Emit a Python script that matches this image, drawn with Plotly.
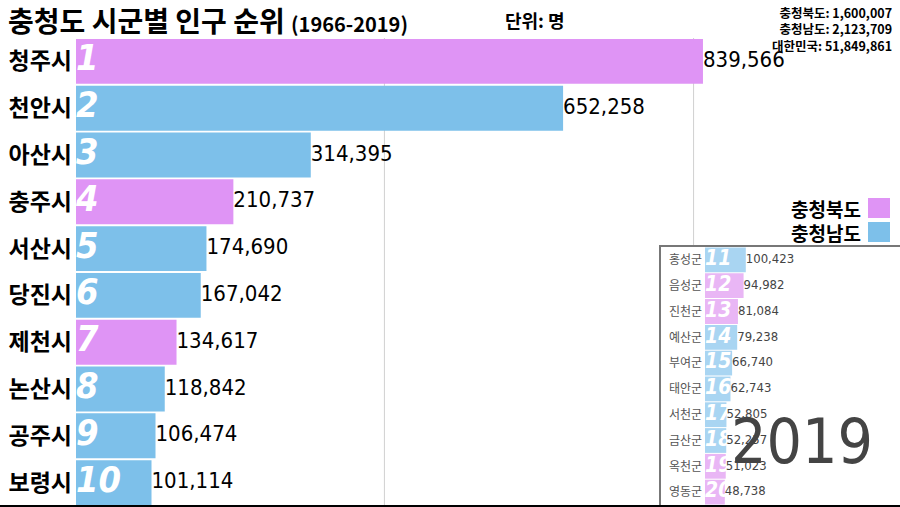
import plotly.graph_objects as go

W, H = 900, 507

# ---------------- data ----------------
top_names = ["청주시", "천안시", "아산시", "충주시", "서산시", "당진시", "제천시", "논산시", "공주시", "보령시"]
top_values = [839566, 652258, 314395, 210737, 174690, 167042, 134617, 118842, 106474, 101114]
top_province = ["북", "남", "남", "북", "남", "남", "북", "남", "남", "남"]
top_ranks = [1, 2, 3, 4, 5, 6, 7, 8, 9, 10]

low_names = ["홍성군", "음성군", "진천군", "예산군", "부여군", "태안군", "서천군", "금산군", "옥천군", "영동군"]
low_values = [100423, 94982, 81084, 79238, 66740, 62743, 52805, 52257, 51023, 48738]
low_province = ["남", "북", "북", "남", "남", "남", "남", "남", "북", "북"]
low_ranks = [11, 12, 13, 14, 15, 16, 17, 18, 19, 20]

totals_labels = ["충청북도:", "충청남도:", "대한민국:"]
totals_values = [1600007, 2123709, 51849861]
year = "2019"
grid_vals = [413000, 827000]

# ---------------- styles ----------------
KR = "Noto Sans CJK KR"
NUM = "Liberation Sans Narrow, DejaVu Sans Condensed, Roboto, Noto Sans CJK KR"
col_main = {"북": "#df94f5", "남": "#7dc0ea"}
col_inset = {"북": "#e9b6f5", "남": "#a9d5f2"}


def px(x):
    return x / W


def py(y):
    return 1 - y / H


fig = go.Figure()

# main bars
fig.add_trace(go.Bar(
    x=top_values, y=top_names, orientation="h",
    marker=dict(color=[col_main[p] for p in top_province], line=dict(width=0)),
    xaxis="x", yaxis="y", hoverinfo="skip", showlegend=False,
))
fig.add_trace(go.Scatter(
    x=[0] * len(top_names), y=top_names, mode="text",
    text=[str(r) for r in top_ranks], textposition="middle right",
    textfont=dict(family=NUM, size=36, color="white", weight="bold", style="italic"),
    xaxis="x", yaxis="y", hoverinfo="skip", showlegend=False, cliponaxis=False,
))
fig.add_trace(go.Scatter(
    x=top_values, y=top_names, mode="text",
    text=[f"{v:,}" for v in top_values], textposition="middle right",
    textfont=dict(family=NUM, size=22, color="black"),
    xaxis="x", yaxis="y", hoverinfo="skip", showlegend=False, cliponaxis=False,
))

# inset bars
fig.add_trace(go.Bar(
    x=low_values, y=low_names, orientation="h",
    marker=dict(color=[col_inset[p] for p in low_province], line=dict(width=0)),
    xaxis="x2", yaxis="y2", hoverinfo="skip", showlegend=False,
))
fig.add_trace(go.Scatter(
    x=[0] * len(low_names), y=low_names, mode="text",
    text=[str(r) for r in low_ranks], textposition="middle right",
    textfont=dict(family=NUM, size=21, color="white", weight="bold", style="italic"),
    xaxis="x2", yaxis="y2", hoverinfo="skip", showlegend=False, cliponaxis=False,
))
fig.add_trace(go.Scatter(
    x=low_values, y=low_names, mode="text",
    text=[f"{v:,}" for v in low_values], textposition="middle right",
    textfont=dict(family=NUM, size=13, color="#444444"),
    xaxis="x2", yaxis="y2", hoverinfo="skip", showlegend=False, cliponaxis=False,
))

shapes = []
# gridlines (drawn first, below everything)
shapes.append(dict(type="line", xref="x", yref="paper", x0=grid_vals[0], x1=grid_vals[0],
                   y0=py(506), y1=py(38), line=dict(color="#d0d0d0", width=1), layer="below"))
shapes.append(dict(type="line", xref="x", yref="paper", x0=grid_vals[1], x1=grid_vals[1],
                   y0=py(246), y1=py(38), line=dict(color="#d0d0d0", width=1), layer="below"))
# inset box
shapes.append(dict(type="rect", xref="paper", yref="paper", x0=px(660), x1=px(901),
                   y0=py(508), y1=py(246), fillcolor="white",
                   line=dict(color="#777777", width=2), layer="below"))
# bottom line
shapes.append(dict(type="line", xref="paper", yref="paper", x0=0, x1=1,
                   y0=py(506), y1=py(506), line=dict(color="black", width=2)))
# legend swatches
shapes.append(dict(type="rect", xref="paper", yref="paper", x0=px(868), x1=px(890),
                   y0=py(218), y1=py(198), fillcolor=col_main["북"], line=dict(width=0)))
shapes.append(dict(type="rect", xref="paper", yref="paper", x0=px(868), x1=px(890),
                   y0=py(242), y1=py(222), fillcolor=col_main["남"], line=dict(width=0)))

annotations = [
    dict(text="충청도 시군별 인구 순위 <span style='font-size:20px'>(1966-2019)</span>",
         x=px(6), y=py(20), xref="paper", yref="paper", xanchor="left", yanchor="middle",
         showarrow=False, font=dict(family=KR, size=28, color="black", weight="bold")),
    dict(text="단위: 명", x=px(503), y=py(20), xref="paper", yref="paper",
         xanchor="left", yanchor="middle", showarrow=False,
         font=dict(family=KR, size=18, color="black", weight="bold")),
    dict(text="<br>".join(f"{l} {v:,}" for l, v in zip(totals_labels, totals_values)),
         x=px(894), y=py(1), xref="paper", yref="paper", xanchor="right", yanchor="top",
         align="right", showarrow=False,
         font=dict(family=KR, size=12.5, color="black", weight="bold")),
    dict(text="충청북도", x=px(863), y=py(208), xref="paper", yref="paper",
         xanchor="right", yanchor="middle", showarrow=False,
         font=dict(family=KR, size=19, color="black", weight="bold")),
    dict(text="충청남도", x=px(863), y=py(232), xref="paper", yref="paper",
         xanchor="right", yanchor="middle", showarrow=False,
         font=dict(family=KR, size=19, color="black", weight="bold")),
    dict(text=year, x=px(802), y=py(441), xref="paper", yref="paper",
         xanchor="center", yanchor="middle", showarrow=False,
         font=dict(family=NUM, size=62, color="#444444")),
]

fig.update_layout(
    width=W, height=H,
    margin=dict(l=0, r=0, t=0, b=0),
    paper_bgcolor="white", plot_bgcolor="rgba(0,0,0,0)",
    bargap=0.04,
    xaxis=dict(domain=[px(76), 1], range=[0, 1103400], showgrid=False, zeroline=False,
               showticklabels=False, showline=False, fixedrange=True),
    yaxis=dict(domain=[py(506), py(38)], autorange="reversed", showgrid=False,
               zeroline=False, showline=False, ticks="", ticklabelstandoff=3,
               tickfont=dict(family=KR, size=23, color="black", weight="bold"),
               fixedrange=True),
    xaxis2=dict(domain=[px(705), 1], range=[0, 480000], anchor="y2", showgrid=False,
                zeroline=False, showticklabels=False, showline=False, fixedrange=True),
    yaxis2=dict(domain=[py(505), py(247)], anchor="x2", autorange="reversed",
                showgrid=False, zeroline=False, showline=False, ticks="",
                ticklabelstandoff=2,
                tickfont=dict(family=KR, size=12, color="#555555"), fixedrange=True),
    shapes=shapes,
    annotations=annotations,
)

fig.write_html("out.html", config={"displayModeBar": False},
               post_script="document.body.style.margin='0px';document.body.style.overflow='hidden';")
